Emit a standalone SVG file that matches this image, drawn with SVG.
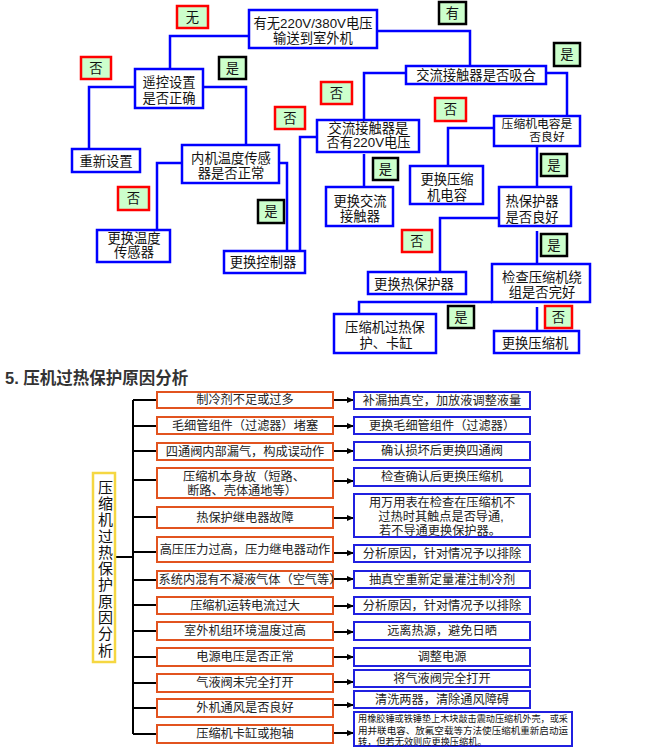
<svg xmlns="http://www.w3.org/2000/svg" width="662" height="756" viewBox="0 0 662 756">
<defs>
<marker id="ah" markerWidth="7" markerHeight="6" refX="7" refY="3" orient="auto" markerUnits="userSpaceOnUse">
<path d="M0,0 L7,3 L0,6 Z" fill="#000"/>
</marker>
</defs>
<style>
text{font-family:"Liberation Sans","Noto Sans CJK SC",sans-serif;fill:#111}
.t{font-size:13.3px;text-anchor:middle}
.bx{fill:#fff;stroke:#0000ff;stroke-width:2.5}
.ly{fill:#ccffcc;stroke:#ff0000;stroke-width:2.5}
.ln{fill:#ccffcc;stroke:#000;stroke-width:2.5}
.c{fill:none;stroke:#0000ff;stroke-width:2.5}
.k{fill:none;stroke:#000;stroke-width:2}
.ca{fill:#fff;stroke:#e2531f;stroke-width:2}
.rb{fill:#fff;stroke:#2020e0;stroke-width:2}
.s{font-size:12.2px;text-anchor:middle;fill:#222}
</style>
<rect width="662" height="756" fill="#fff"/>

<g id="connectors-top">
<path class="c" d="M249,36 H170 V69"/>
<path class="c" d="M377,31 H470 V66"/>
<path class="c" d="M135,87 H89 V149"/>
<path class="c" d="M203,87 H246 V145"/>
<path class="c" d="M182,163 H157 V230"/>
<path class="c" d="M279,163 H287 V251"/>
<path class="c" d="M406,73 H364 V120"/>
<path class="c" d="M546,73 H567 V116"/>
<path class="c" d="M317,137 H300 V251"/>
<path class="c" d="M364,154 V187"/>
<path class="c" d="M494,128 H448 V166"/>
<path class="c" d="M537,146 V187"/>
<path class="c" d="M499,218 H440 V272"/>
<path class="c" d="M537,231 V264"/>
<path class="c" d="M492,302 H359 V314"/>
<path class="c" d="M537,307 V331"/>
</g>

<g id="n-top"><rect class="bx" x="249" y="10" width="128" height="38"/><text class="t" x="313" y="27.6">有无220V/380V电压</text><text class="t" x="313" y="42.6">输送到室外机</text></g>
<g id="n-remote"><rect class="bx" x="135" y="69" width="68" height="39"/><text class="t" x="169" y="86.6">遥控设置</text><text class="t" x="169" y="102.6">是否正确</text></g>
<g id="n-reset"><rect class="bx" x="72" y="149" width="68" height="23"/><text class="t" x="106" y="165.6">重新设置</text></g>
<g id="n-sensor"><rect class="bx" x="182" y="145" width="97" height="38"/><text class="t" x="231" y="162.6">内机温度传感</text><text class="t" x="231" y="177.6">器是否正常</text></g>
<g id="n-repsensor"><rect class="bx" x="97" y="230" width="73" height="32"/><text class="t" x="134" y="242.6">更换温度</text><text class="t" x="134" y="256.6">传感器</text></g>
<g id="n-ctrl"><rect class="bx" x="224" y="251" width="81" height="22"/><text class="t" x="263" y="266.6">更换控制器</text></g>
<g id="n-contact"><rect class="bx" x="406" y="66" width="140" height="18"/><text class="t" x="476" y="79.6">交流接触器是否吸合</text></g>
<g id="n-220"><rect class="bx" x="317" y="120" width="102" height="32"/><text class="t" x="368.5" y="132.6">交流接触器是</text><text class="t" x="368.5" y="146.6">否有220V电压</text></g>
<g id="n-repcontact"><rect class="bx" x="326" y="187" width="67" height="39"/><text class="t" x="360" y="205.6">更换交流</text><text class="t" x="360" y="220.6">接触器</text></g>
<g id="n-cap"><rect class="bx" x="494" y="116" width="86" height="30"/><text class="t" x="537" y="127.6" style="font-size:11.8px">压缩机电容是</text><text class="t" x="547" y="141.2" style="font-size:11.8px">否良好</text></g>
<g id="n-repcap"><rect class="bx" x="410" y="166" width="73" height="38"/><text class="t" x="447" y="183.6">更换压缩</text><text class="t" x="447" y="199.6">机电容</text></g>
<g id="n-thermal"><rect class="bx" x="499" y="187" width="72" height="39"/><text class="t" x="532" y="205.6">热保护器</text><text class="t" x="532" y="221.6">是否良好</text></g>
<g id="n-repthermal"><rect class="bx" x="368" y="272" width="98" height="22"/><text class="t" x="414" y="288.6">更换热保护器</text></g>
<g id="n-winding"><rect class="bx" x="492" y="264" width="98" height="38"/><text class="t" x="542" y="281.6">检查压缩机绕</text><text class="t" x="542" y="296.6">组是否完好</text></g>
<g id="n-overheat"><rect class="bx" x="334" y="314" width="102" height="39"/><text class="t" x="385" y="331.6">压缩机过热保</text><text class="t" x="386" y="347.6">护、卡缸</text></g>
<g id="n-repcomp"><rect class="bx" x="494" y="331" width="85" height="22"/><text class="t" x="535" y="347.6">更换压缩机</text></g>

<g id="labels">
<rect class="ly" x="177" y="6" width="31" height="22"/><text class="t" x="192.5" y="21.6">无</text>
<rect class="ln" x="439" y="2" width="27" height="22"/><text class="t" x="452.5" y="17.6">有</text>
<rect class="ly" x="81" y="57" width="30" height="22"/><text class="t" x="96" y="72.6">否</text>
<rect class="ln" x="219" y="57" width="27" height="22"/><text class="t" x="232.5" y="72.6">是</text>
<rect class="ly" x="321" y="82" width="31" height="22"/><text class="t" x="336.5" y="97.6">否</text>
<rect class="ly" x="275" y="107" width="30" height="22"/><text class="t" x="290" y="122.6">否</text>
<rect class="ln" x="554" y="43" width="26" height="23"/><text class="t" x="567" y="59.1">是</text>
<rect class="ly" x="435" y="98" width="31" height="23"/><text class="t" x="450.5" y="114.1">否</text>
<rect class="ln" x="373" y="158" width="25" height="22"/><text class="t" x="385.5" y="173.6">是</text>
<rect class="ln" x="541" y="154" width="26" height="22"/><text class="t" x="554" y="169.6">是</text>
<rect class="ly" x="118" y="187" width="31" height="23"/><text class="t" x="133.5" y="203.1">否</text>
<rect class="ln" x="258" y="200" width="26" height="23"/><text class="t" x="271" y="216.1">是</text>
<rect class="ly" x="402" y="230" width="30" height="22"/><text class="t" x="417" y="245.6">否</text>
<rect class="ln" x="541" y="234" width="26" height="22"/><text class="t" x="554" y="249.6">是</text>
<rect class="ln" x="448" y="306" width="26" height="22"/><text class="t" x="461" y="321.6">是</text>
<rect class="ly" x="545" y="306" width="27" height="22"/><text class="t" x="558.5" y="321.6">否</text>
</g>

<text x="5" y="384" style="font-size:16.5px;font-weight:bold;fill:#333">5. 压机过热保护原因分析</text>

<g id="connectors-bottom">
<path class="k" d="M133,400 V734 M115,557 H133"/>
<path class="k" d="M133,400 H157 M133,426 H157 M133,451 H157 M133,480 H157 M133,517 H157 M133,552 H157 M133,580 H157 M133,605 H157 M133,631 H157 M133,657 H157 M133,683 H157 M133,708 H157 M133,734 H157"/>
<g marker-end="url(#ah)">
<path class="k" d="M333,400 H354"/>
<path class="k" d="M333,426 H354"/>
<path class="k" d="M333,451 H354"/>
<path class="k" d="M333,481 H354"/>
<path class="k" d="M333,518 H354"/>
<path class="k" d="M333,553 H354"/>
<path class="k" d="M333,579 H354"/>
<path class="k" d="M333,606 H354"/>
<path class="k" d="M333,632 H354"/>
<path class="k" d="M333,657 H354"/>
<path class="k" d="M333,682 H354"/>
<path class="k" d="M333,705 H354"/>
<path class="k" d="M333,733 H354"/>
</g>
</g>

<g id="n-root"><rect x="93" y="473" width="22" height="189" fill="#fff" stroke="#f5d742" stroke-width="2.5"/>
<text style="font-size:15px;writing-mode:vertical-rl;letter-spacing:1.3px" x="104.5" y="479.5">压缩机过热保护原因分析</text></g>

<g id="causes">
<g id="c1"><rect class="ca" x="157" y="392" width="176" height="16"/><text class="s" x="245" y="404.3">制冷剂不足或过多</text></g>
<g id="c2"><rect class="ca" x="157" y="417" width="176" height="17"/><text class="s" x="245" y="429.8">毛细管组件（过滤器）堵塞</text></g>
<g id="c3"><rect class="ca" x="157" y="443" width="176" height="17"/><text class="s" x="245" y="455.8">四通阀内部漏气，构成误动作</text></g>
<g id="c4"><rect class="ca" x="157" y="468" width="176" height="30"/><text class="s" x="244" y="481.3">压缩机本身故（短路、</text><text class="s" x="242" y="495.3">断路、壳体通地等）</text></g>
<g id="c5"><rect class="ca" x="157" y="507" width="176" height="21"/><text class="s" x="245" y="521.8">热保护继电器故障</text></g>
<g id="c6"><rect class="ca" x="157" y="537" width="176" height="25"/><text class="s" x="245" y="553.8">高压压力过高，压力继电器动作</text></g>
<g id="c7"><rect class="ca" x="157" y="571" width="176" height="17"/><text class="s" x="250" y="583.8">系统内混有不凝液气体（空气等）</text></g>
<g id="c8"><rect class="ca" x="157" y="597" width="176" height="17"/><text class="s" x="245" y="609.8">压缩机运转电流过大</text></g>
<g id="c9"><rect class="ca" x="157" y="622" width="176" height="18"/><text class="s" x="245" y="635.3">室外机组环境温度过高</text></g>
<g id="c10"><rect class="ca" x="157" y="648" width="176" height="18"/><text class="s" x="245" y="661.3">电源电压是否正常</text></g>
<g id="c11"><rect class="ca" x="157" y="674" width="176" height="18"/><text class="s" x="245" y="687.3">气液阀未完全打开</text></g>
<g id="c12"><rect class="ca" x="157" y="699" width="176" height="18"/><text class="s" x="245" y="712.3">外机通风是否良好</text></g>
<g id="c13"><rect class="ca" x="157" y="725" width="176" height="18"/><text class="s" x="245" y="738.3">压缩机卡缸或抱轴</text></g>
</g>

<g id="fixes">
<g id="f1"><rect class="rb" x="354" y="392" width="176" height="17"/><text class="s" x="442" y="404.8">补漏抽真空，加放液调整液量</text></g>
<g id="f2"><rect class="rb" x="354" y="417" width="176" height="17"/><text class="s" x="442" y="429.8">更换毛细管组件（过滤器）</text></g>
<g id="f3"><rect class="rb" x="354" y="442" width="176" height="18"/><text class="s" x="442" y="455.3">确认损坏后更换四通阀</text></g>
<g id="f4"><rect class="rb" x="354" y="468" width="176" height="18"/><text class="s" x="442" y="481.3">检查确认后更换压缩机</text></g>
<g id="f5"><rect class="rb" x="354" y="494" width="176" height="43"/><text class="s" x="442" y="507.3">用万用表在检查在压缩机不</text><text class="s" x="441" y="521.3">过热时其触点是否导通,</text><text class="s" x="440" y="535">若不导通更换保护器。</text></g>
<g id="f6"><rect class="rb" x="354" y="545" width="176" height="17"/><text class="s" x="442" y="557.8">分析原因，针对情况予以排除</text></g>
<g id="f7"><rect class="rb" x="354" y="571" width="176" height="17"/><text class="s" x="442" y="583.8">抽真空重新定量灌注制冷剂</text></g>
<g id="f8"><rect class="rb" x="354" y="597" width="176" height="17"/><text class="s" x="442" y="609.8">分析原因，针对情况予以排除</text></g>
<g id="f9"><rect class="rb" x="354" y="622" width="176" height="18"/><text class="s" x="442" y="635.3">远离热源，避免日晒</text></g>
<g id="f10"><rect class="rb" x="354" y="648" width="176" height="18"/><text class="s" x="442" y="661.3">调整电源</text></g>
<g id="f11"><rect class="rb" x="354" y="670" width="176" height="17"/><text class="s" x="442" y="682.8">将气液阀完全打开</text></g>
<g id="f12"><rect class="rb" x="354" y="691" width="176" height="17"/><text class="s" x="442" y="703.8">清洗两器，清除通风障碍</text></g>
<g id="f13"><rect class="rb" x="354" y="712" width="218" height="34"/>
<text style="font-size:9.2px" x="358" y="722.3" textLength="210" lengthAdjust="spacingAndGlyphs">用橡胶锤或铁锤垫上木块敲击震动压缩机外壳，或采</text>
<text style="font-size:9.2px" x="358" y="733.6" textLength="210" lengthAdjust="spacingAndGlyphs">用并联电容、放氟空载等方法使压缩机重新启动运</text>
<text style="font-size:9.2px" x="358" y="744.6">转，但若无效则应更换压缩机。</text></g>
</g>
</svg>
